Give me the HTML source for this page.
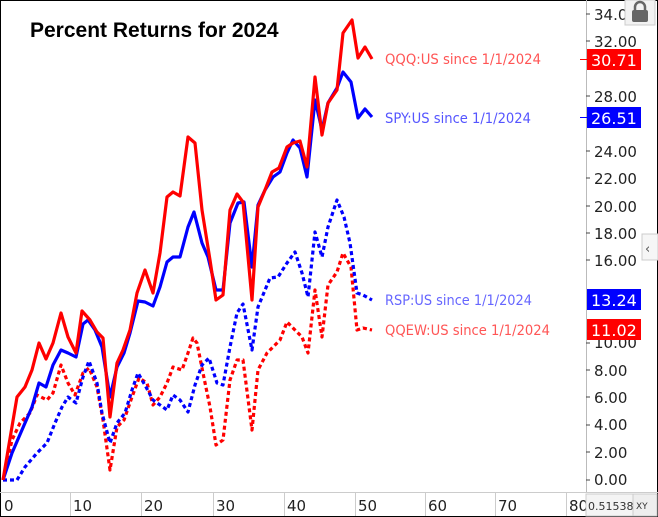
<!DOCTYPE html>
<html><head><style>
html,body{margin:0;padding:0;background:#fff}
svg{display:block;font-family:"DejaVu Sans","Liberation Sans",sans-serif}
</style></head><body>
<svg width="658" height="517" viewBox="0 0 658 517" xmlns="http://www.w3.org/2000/svg">
<rect x="0.5" y="0.5" width="657" height="516" fill="#fff" stroke="#000"/>
<text x="30" y="37" font-family="Liberation Sans, sans-serif" font-weight="bold" font-size="21" fill="#000">Percent Returns for 2024</text>
<line x1="586.5" y1="0" x2="586.5" y2="492" stroke="#bbb"/>
<line x1="0" y1="492.5" x2="658" y2="492.5" stroke="#ccc"/>
<g stroke="#ccc">
<line x1="70.5" y1="492" x2="70.5" y2="516"/><line x1="141.5" y1="492" x2="141.5" y2="516"/><line x1="213.5" y1="492" x2="213.5" y2="516"/><line x1="284.5" y1="492" x2="284.5" y2="516"/><line x1="355.5" y1="492" x2="355.5" y2="516"/><line x1="425.5" y1="492" x2="425.5" y2="516"/><line x1="495.5" y1="492" x2="495.5" y2="516"/><line x1="566.5" y1="492" x2="566.5" y2="516"/>
</g>
<g font-size="15" fill="#222">
<text x="4" y="511">0</text><text x="73" y="511">10</text><text x="144" y="511">20</text><text x="216" y="511">30</text><text x="287" y="511">40</text><text x="358" y="511">50</text><text x="428" y="511">60</text><text x="498" y="511">70</text><text x="569" y="511">80</text>
</g>
<g font-size="15" fill="#222">
<text x="594" y="20">34.00</text><text x="594" y="47">32.00</text><text x="594" y="102">28.00</text><text x="594" y="157">24.00</text><text x="594" y="184">22.00</text><text x="594" y="212">20.00</text><text x="594" y="239">18.00</text><text x="594" y="266">16.00</text><text x="594" y="348">10.00</text><text x="594" y="376">8.00</text><text x="594" y="403">6.00</text><text x="594" y="430">4.00</text><text x="594" y="458">2.00</text><text x="594" y="485">0.00</text>
</g>
<g stroke="#444">
<line x1="586" y1="14" x2="590" y2="14"/><line x1="586" y1="41" x2="590" y2="41"/><line x1="586" y1="96" x2="590" y2="96"/><line x1="586" y1="151" x2="590" y2="151"/><line x1="586" y1="178" x2="590" y2="178"/><line x1="586" y1="206" x2="590" y2="206"/><line x1="586" y1="233" x2="590" y2="233"/><line x1="586" y1="260" x2="590" y2="260"/><line x1="586" y1="343" x2="590" y2="343"/><line x1="586" y1="370" x2="590" y2="370"/><line x1="586" y1="397" x2="590" y2="397"/><line x1="586" y1="425" x2="590" y2="425"/><line x1="586" y1="452" x2="590" y2="452"/><line x1="586" y1="480" x2="590" y2="480"/>
</g>
<rect x="625" y="0" width="30" height="25" fill="#f2f2f2" stroke="#ccc"/>
<rect x="632" y="10" width="16" height="12" rx="2" fill="#666"/>
<path d="M635 11 V7 a5 5 0 0 1 10 0 V11" fill="none" stroke="#666" stroke-width="2.5"/>
<rect x="642" y="234" width="16" height="26" fill="#f6f6f6" stroke="#ccc"/>
<text x="645" y="253" font-size="13" fill="#555">‹</text>
<rect x="586" y="494" width="47" height="22" fill="#f4f4f4" stroke="#ccc"/>
<text x="588" y="510" font-size="11" fill="#333">0.5153894</text>
<rect x="633" y="494" width="24" height="22" fill="#eee" stroke="#ccc"/>
<text x="636" y="509" font-size="9" fill="#333">XY</text>
<g fill="none" stroke-width="3.2" stroke-linejoin="round">
<polyline stroke="#f00" stroke-dasharray="4,3" points="3,480 12,440 20,423 30,413 37,395 47,400 53,393 61,365 68,383 75,395 83,373 89,368 97,387 103,420 110,470 117,427 124,420 132,397 139,378 147,383 153,405 160,397 167,383 173,367 182,370 188,353 193,338 197,343 203,373 210,407 216,445 223,440 230,380 237,360 243,360 252,430 258,370 267,353 273,347 280,340 287,322 293,328 302,337 308,353 315,290 322,337 328,285 337,272 343,253 351,267 357,330 363,328 372,330"/>
<polyline stroke="#00f" stroke-dasharray="4,3" points="3,480 17,480 25,467 37,453 47,443 55,423 62,407 68,397 76,403 83,377 89,361 97,383 102,413 110,443 117,423 125,413 132,390 138,373 146,387 153,400 160,405 167,410 173,395 180,400 188,412 195,385 202,365 209,358 217,383 223,385 230,347 237,313 243,304 252,350 258,307 270,278 278,277 287,263 295,252 302,273 308,297 315,232 322,257 328,227 337,200 344,217 350,243 357,293 363,295 372,300"/>
<polyline stroke="#00f" points="3,480 12,453 25,423 32,407 39,383 46,387 53,365 61,350 68,353 76,357 83,324 88,320 95,330 102,347 110,397 117,367 124,353 130,333 138,301 145,302 153,306 160,287 167,262 173,257 180,257 188,227 194,212 202,243 208,257 216,290 223,290 230,223 238,203 244,202 252,267 258,205 265,190 273,177 280,172 287,153 293,140 300,148 307,177 315,100 322,130 328,103 337,88 343,72 351,82 358,118 365,109 372,117"/>
<polyline stroke="#f00" points="3,480 17,397 25,387 32,370 39,343 46,359 53,343 61,313 68,337 76,353 82,311 90,320 97,332 103,338 110,417 117,363 123,350 130,330 137,293 145,270 153,293 160,253 167,197 173,192 180,196 188,137 195,143 202,210 210,260 216,300 223,295 230,210 237,194 243,202 252,300 258,207 265,190 272,172 279,168 287,147 293,143 300,141 307,167 315,77 322,135 328,103 337,90 343,33 352,20 358,58 365,47 372,59"/>
</g>
<g font-size="14">
<text x="385" y="64" fill="#f55" textLength="156" lengthAdjust="spacingAndGlyphs">QQQ:US since 1/1/2024</text>
<text x="385" y="123" fill="#55f" textLength="146" lengthAdjust="spacingAndGlyphs">SPY:US since 1/1/2024</text>
<text x="385" y="305" fill="#66f" textLength="147" lengthAdjust="spacingAndGlyphs">RSP:US since 1/1/2024</text>
<text x="385" y="335" fill="#f55" textLength="165" lengthAdjust="spacingAndGlyphs">QQEW:US since 1/1/2024</text>
</g>
<line x1="580" y1="59.5" x2="587" y2="59.5" stroke="#f00"/>
<line x1="580" y1="117.5" x2="587" y2="117.5" stroke="#00f"/>
<rect x="587" y="49" width="54" height="21" fill="#f00"/>
<rect x="587" y="107" width="54" height="21" fill="#00f"/>
<rect x="587" y="289" width="54" height="21" fill="#00f"/>
<rect x="587" y="319" width="54" height="21" fill="#f00"/>
<g font-size="16" fill="#fff">
<text x="591" y="66">30.71</text><text x="591" y="124">26.51</text><text x="591" y="306">13.24</text><text x="591" y="336">11.02</text>
</g>
</svg>
</body></html>
